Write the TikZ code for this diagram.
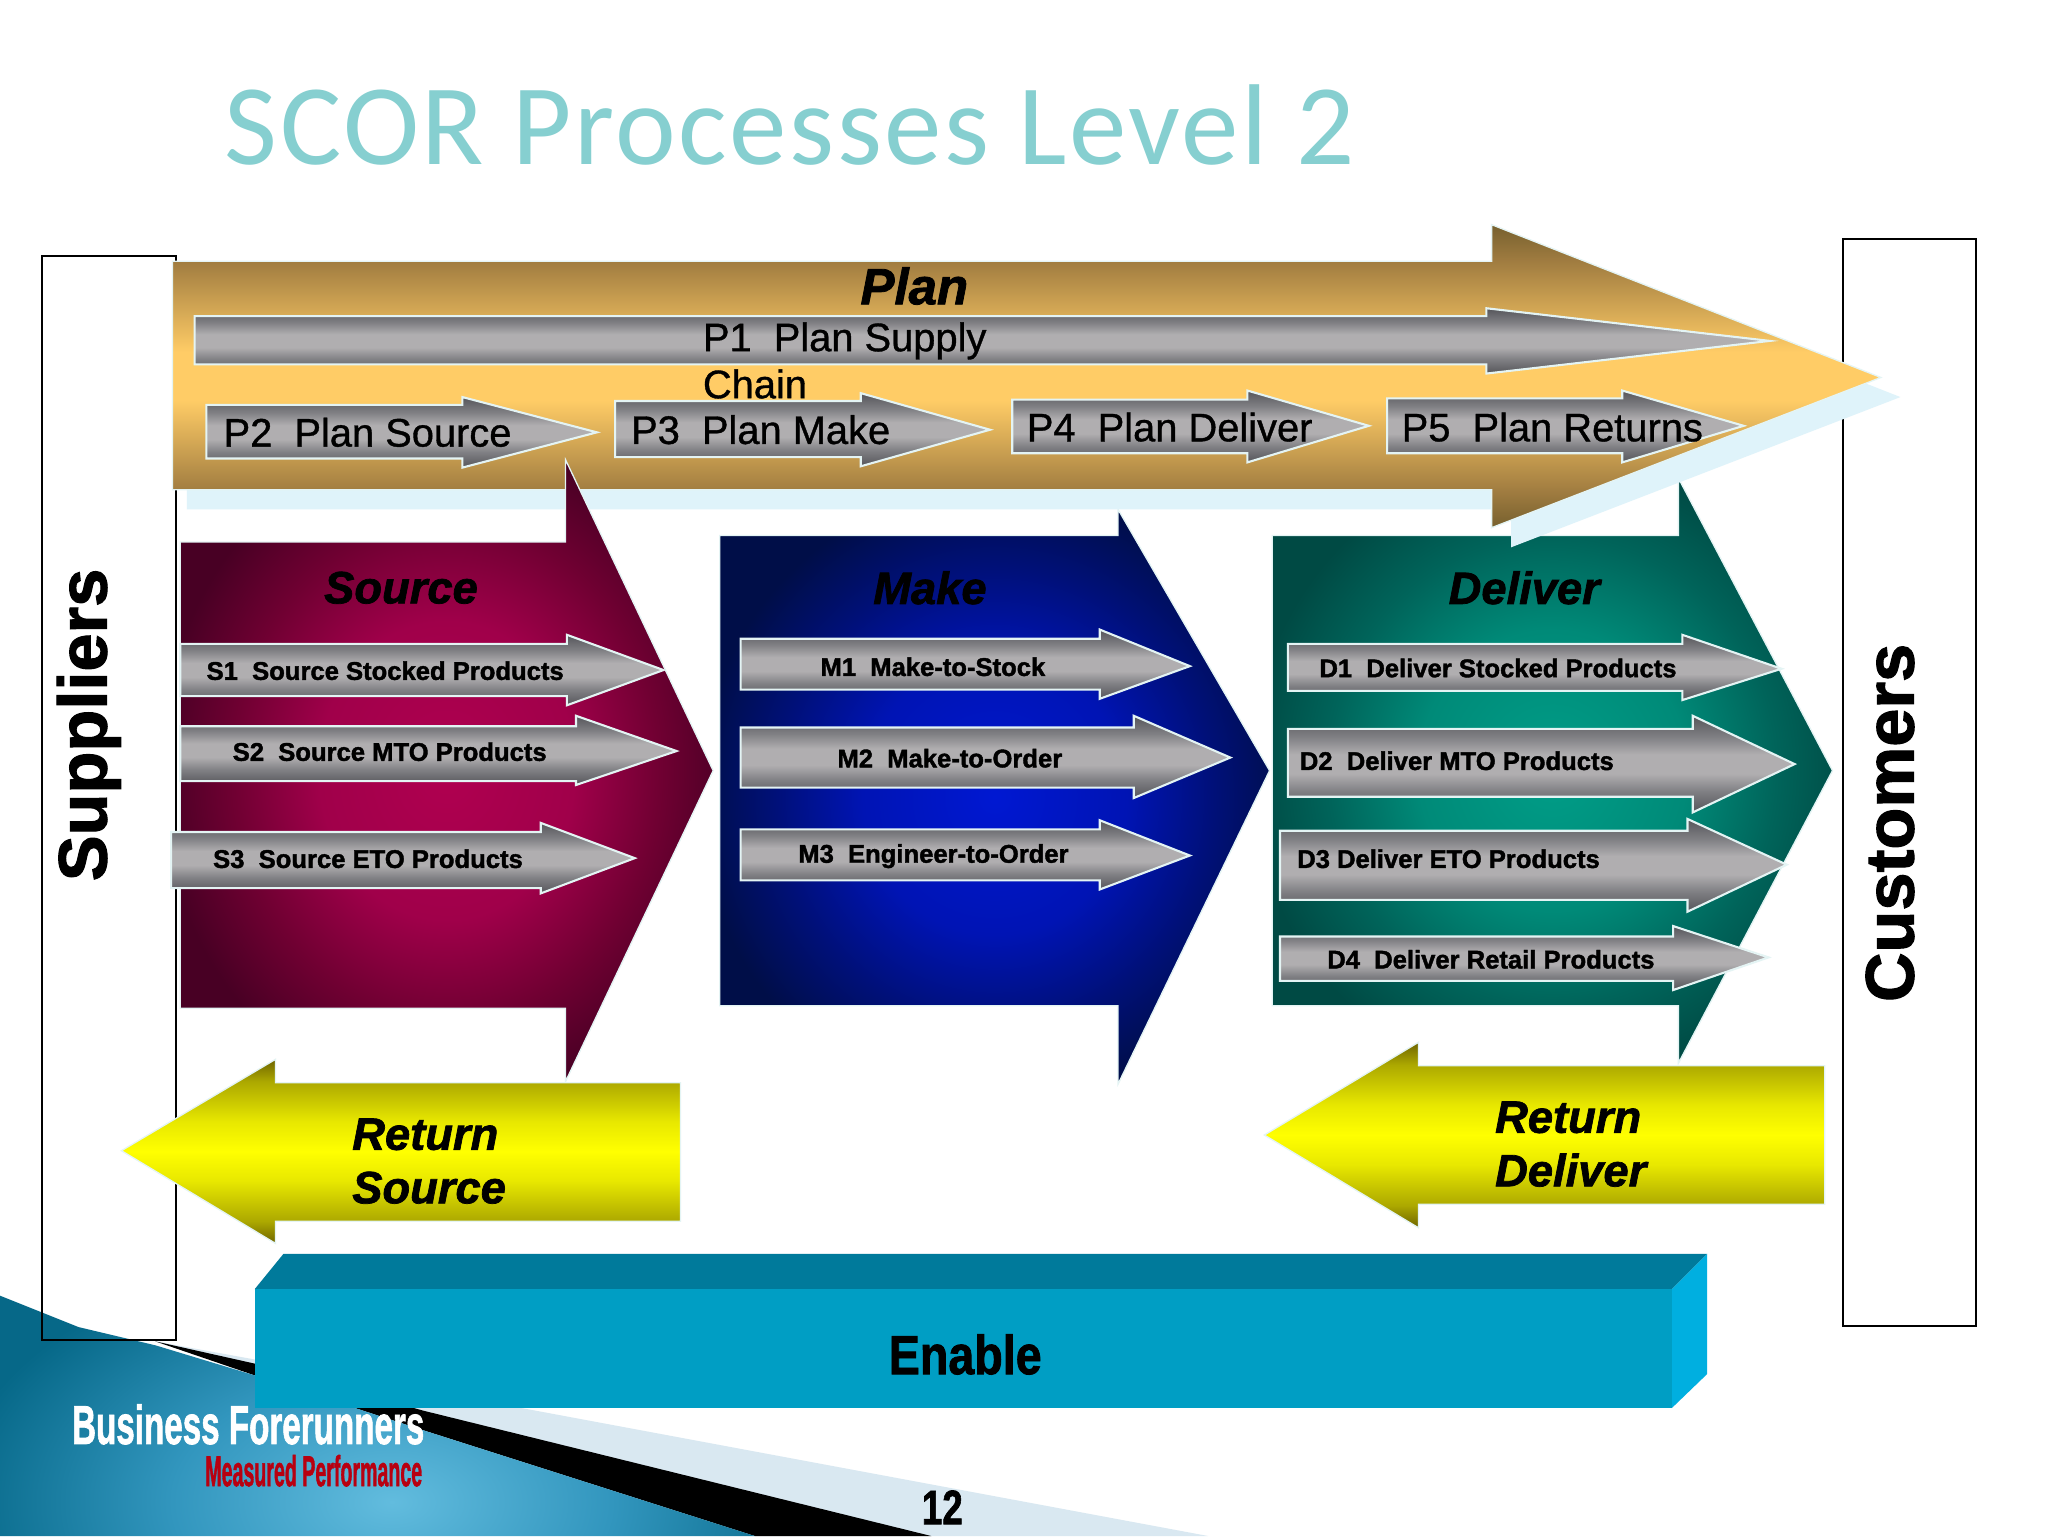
\documentclass[tikz,border=0pt]{standalone}
\usepackage{fontspec}
\setmainfont{Liberation Sans}[UprightFeatures={FakeBold=0.9},BoldFeatures={FakeBold=1.6},BoldItalicFeatures={FakeBold=1.6}]
\newfontfamily\titlefont[LetterSpace=2.25]{Carlito}
\definecolor{pale}{HTML}{DFF3FA}
\definecolor{band}{HTML}{D9E8F1}
\definecolor{edgepale}{HTML}{E4F4F4}
\definecolor{grayE}{HTML}{55555A}
\definecolor{grayD}{HTML}{808084}
\definecolor{grayL}{HTML}{B0AEB0}
\definecolor{planE}{HTML}{76602E}
\definecolor{planD}{HTML}{A07C40}
\definecolor{planL}{HTML}{FFCC66}
\definecolor{yelE}{HTML}{6E6400}
\definecolor{yelD}{HTML}{ACA800}
\definecolor{yelM}{HTML}{E8E800}
\definecolor{yelL}{HTML}{FFFF00}
\definecolor{titleC}{HTML}{86CFD0}
\definecolor{enF}{HTML}{009EC4}
\definecolor{enT}{HTML}{007A9B}
\definecolor{enR}{HTML}{00AFE0}
\definecolor{srcA}{HTML}{B00050}\definecolor{srcB}{HTML}{A0004A}\definecolor{srcC}{HTML}{700032}\definecolor{srcD}{HTML}{480024}
\definecolor{mkA}{HTML}{0018D2}\definecolor{mkB}{HTML}{0014B4}\definecolor{mkC}{HTML}{001078}\definecolor{mkD}{HTML}{000E48}
\definecolor{dlA}{HTML}{009E88}\definecolor{dlB}{HTML}{008A78}\definecolor{dlC}{HTML}{00645A}\definecolor{dlD}{HTML}{004A44}
\definecolor{tlA}{HTML}{62BCDE}\definecolor{tlB}{HTML}{3296BE}\definecolor{tlC}{HTML}{066888}
\definecolor{tagC}{HTML}{B80010}
\pgfdeclareradialshading{srcrad}{\pgfpointorigin}{color(0bp)=(srcA);color(12bp)=(srcB);color(20bp)=(srcC);color(27bp)=(srcD);color(50bp)=(srcD)}
\pgfdeclareradialshading{mkrad}{\pgfpointorigin}{color(0bp)=(mkA);color(12bp)=(mkB);color(20bp)=(mkC);color(27bp)=(mkD);color(50bp)=(mkD)}
\pgfdeclareradialshading{dlrad}{\pgfpointorigin}{color(0bp)=(dlA);color(12bp)=(dlB);color(20bp)=(dlC);color(27bp)=(dlD);color(50bp)=(dlD)}
\pgfdeclareradialshading{tealrad}{\pgfpointorigin}{color(0bp)=(tlA);color(7bp)=(tlB);color(14bp)=(tlC);color(50bp)=(tlC)}
\pgfdeclareverticalshading{grayax}{100bp}{color(0bp)=(grayE);color(25bp)=(grayE);color(36bp)=(grayD);color(45bp)=(grayL);color(55bp)=(grayL);color(64bp)=(grayD);color(75bp)=(grayE);color(100bp)=(grayE)}
\pgfdeclareverticalshading{planax}{100bp}{color(0bp)=(planE);color(25bp)=(planE);color(31bp)=(planD);color(46bp)=(planL);color(54bp)=(planL);color(69bp)=(planD);color(75bp)=(planE);color(100bp)=(planE)}
\pgfdeclareverticalshading{yelax}{100bp}{color(0bp)=(yelE);color(25bp)=(yelE);color(31bp)=(yelD);color(42bp)=(yelM);color(50bp)=(yelL);color(58bp)=(yelM);color(69bp)=(yelD);color(75bp)=(yelE);color(100bp)=(yelE)}
\tikzset{
  grayshape/.style={shading=grayax,draw=edgepale,line width=1.6pt},
  planshape/.style={shading=planax,draw=edgepale,line width=1pt},
  yelshape/.style={shading=yelax,draw=edgepale,line width=1pt},
  bigshape/.style={draw=edgepale,line width=1pt},
  sidebox/.style={draw=black,line width=1.6pt},
  grp/.style={inner sep=0pt,font=\fontsize{34.7}{42}\selectfont\bfseries\itshape,text=black},
  itemtxt/.style={inner sep=0pt,anchor=west,font=\fontsize{19.6}{24}\selectfont\bfseries,text=black},
  plantxt/.style={inner sep=0pt,anchor=west,font=\fontsize{30.5}{36}\selectfont,text=black},
}
\newcommand{\rarrow}[9]{%
  \path[#1] (#2,#4) -- (#3,#4) -- (#3,#6) -- (#8,#9) -- (#3,#7) -- (#3,#5) -- (#2,#5) -- cycle;}
\begin{document}
\begin{tikzpicture}[x=1pt,y=-1pt]
\useasboundingbox (0,0) rectangle (1568,1176);
\fill[white] (0,0) rectangle (1568,1176);
% corner decoration
\fill[band] (119,1027) -- (410,1080) -- (925,1176) -- (578,1176) -- cycle;
\fill[black] (119,1027) -- (195,1044) -- (324,1080) -- (713,1176) -- (578,1176) -- (324,1095) -- (195,1053) -- cycle;
\begin{scope}
\clip (0,992) -- (60,1016) -- (119,1030) -- (195,1053) -- (324,1095) -- (578,1176) -- (0,1176) -- cycle;
\shade[shading=tealrad] (-300,800) rectangle (900,1500);
\end{scope}
% side boxes
\draw[sidebox] (32,196) rectangle (135,1026);
\draw[sidebox] (1411,183) rectangle (1513,1015);
\node[inner sep=0pt,rotate=90,font=\fontsize{52.5}{60}\selectfont\bfseries] (suppliers) at (68,555) {Suppliers};
\node[inner sep=0pt,rotate=90,font=\fontsize{52.5}{60}\selectfont\bfseries] (customers) at (1447,630) {Customers};
% title
\node[inner sep=0pt,anchor=west,text=titleC,font=\fontsize{88}{100}\selectfont\titlefont] (title) at (172,95.5) {SCOR Processes Level 2};
% process arrows
\rarrow{shading=dlrad,bigshape}{974}{1285}{410}{770}{366}{814}{1403}{590}
\rarrow{shading=mkrad,bigshape}{551}{856}{410}{770}{390}{830}{972}{590}
% plan
\rarrow{fill=pale}{143}{1157}{215}{390}{187}{419}{1455}{304}
\rarrow{planshape}{132}{1142}{200}{375}{172}{404}{1440}{289}
\rarrow{shading=srcrad,bigshape}{138}{433}{415}{772}{352}{828}{546}{590}
\node[grp,font=\fontsize{39}{46}\selectfont\bfseries\itshape] (plan) at (700,219) {Plan};
\rarrow{grayshape}{149}{1138}{242}{279}{236}{286}{1355}{261}
\node[plantxt,align=left,font=\fontsize{30.5}{36}\selectfont] (p1) at (538,276) {P1\hspace{0.278em} Plan Supply\\Chain};
\rarrow{grayshape}{158}{354}{310}{351}{304}{358}{457}{331}
\node[plantxt] (p2) at (171,331) {P2\hspace{0.278em} Plan Source};
\rarrow{grayshape}{471}{659}{307}{350}{301}{357}{758}{329}
\node[plantxt] (p3) at (483,329) {P3\hspace{0.278em} Plan Make};
\rarrow{grayshape}{775}{955}{306}{347}{299}{354}{1048}{326}
\node[plantxt] (p4) at (786,327) {P4\hspace{0.278em} Plan Deliver};
\rarrow{grayshape}{1062}{1242}{305}{347}{299}{354}{1335}{326}
\node[plantxt] (p5) at (1073,327) {P5\hspace{0.278em} Plan Returns};
% group labels
\node[grp] (source) at (307,450) {Source};
\node[grp] (make) at (712,450) {Make};
\node[grp] (deliver) at (1167,450) {Deliver};
% source items
\rarrow{grayshape}{138}{434}{493}{533}{486}{540}{508}{513}
\node[itemtxt] (s1) at (158,513.5) {S1\hspace{0.278em} Source Stocked Products};
\rarrow{grayshape}{138}{441}{556}{598}{548}{601}{518}{575}
\node[itemtxt] (s2) at (178,575.5) {S2\hspace{0.278em} Source MTO Products};
\rarrow{grayshape}{131}{414}{637}{680}{630}{684}{486}{657}
\node[itemtxt] (s3) at (163,657.5) {S3\hspace{0.278em} Source ETO Products};
% make items
\rarrow{grayshape}{567}{842}{489}{528}{482}{535}{911}{510}
\node[itemtxt] (m1) at (628,510.5) {M1\hspace{0.278em} Make-to-Stock};
\rarrow{grayshape}{567}{868}{557}{603}{548}{611}{942}{580}
\node[itemtxt] (m2) at (641,580.5) {M2\hspace{0.278em} Make-to-Order};
\rarrow{grayshape}{567}{842}{635}{674}{628}{681}{911}{655}
\node[itemtxt] (m3) at (611,655.5) {M3\hspace{0.278em} Engineer-to-Order};
% deliver items
\rarrow{grayshape}{986}{1288}{493}{529}{486}{536}{1364}{512}
\node[itemtxt] (d1) at (1010,511.5) {D1\hspace{0.278em} Deliver Stocked Products};
\rarrow{grayshape}{986}{1296}{558}{610}{548}{622}{1374}{585}
\node[itemtxt] (d2) at (995,582.5) {D2\hspace{0.278em} Deliver MTO Products};
\rarrow{grayshape}{980}{1292}{636}{689}{627}{698}{1368}{662}
\node[itemtxt] (d3) at (993,657.5) {D3 Deliver ETO Products};
\rarrow{grayshape}{980}{1281}{717}{751}{709}{758}{1354}{733}
\node[itemtxt] (d4) at (1016,734.5) {D4\hspace{0.278em} Deliver Retail Products};
% returns
\rarrow{yelshape}{521}{211}{829}{935}{811}{952}{93}{881}
\node[grp,anchor=west,align=left,font=\fontsize{34.7}{41}\selectfont\bfseries\itshape] (rs) at (269.5,889) {Return\\Source};
\rarrow{yelshape}{1397}{1086}{816}{922}{798}{940}{968}{869}
\node[grp,anchor=west,align=left,font=\fontsize{34.7}{41}\selectfont\bfseries\itshape] (rd) at (1144.5,876) {Return\\Deliver};
% enable
\fill[enT] (195,987) -- (217,960) -- (1307,960) -- (1280,987) -- cycle;
\fill[enR] (1280,987) -- (1307,960) -- (1307,1052) -- (1280,1078) -- cycle;
\fill[enF] (195,987) rectangle (1280,1078);
\node[inner sep=0pt,font=\fontsize{42}{48}\selectfont\bfseries] (enable) at (739,1037) {\scalebox{0.85}[1]{Enable}};
% logo and page number
\node[inner sep=0pt,anchor=west,text=white,font=\fontsize{42}{48}\selectfont\bfseries] (logo) at (55,1090.5) {\scalebox{0.605}[1]{Business Forerunners}};
\node[inner sep=0pt,anchor=west,text=tagC,font=\fontsize{33}{38}\selectfont\bfseries] (tag) at (157,1126) {\scalebox{0.455}[1]{Measured Performance}};
\node[inner sep=0pt,font=\fontsize{37}{42}\selectfont\bfseries] (pagenum) at (721.5,1154) {\scalebox{0.76}[1]{12}};
\end{tikzpicture}
\end{document}
